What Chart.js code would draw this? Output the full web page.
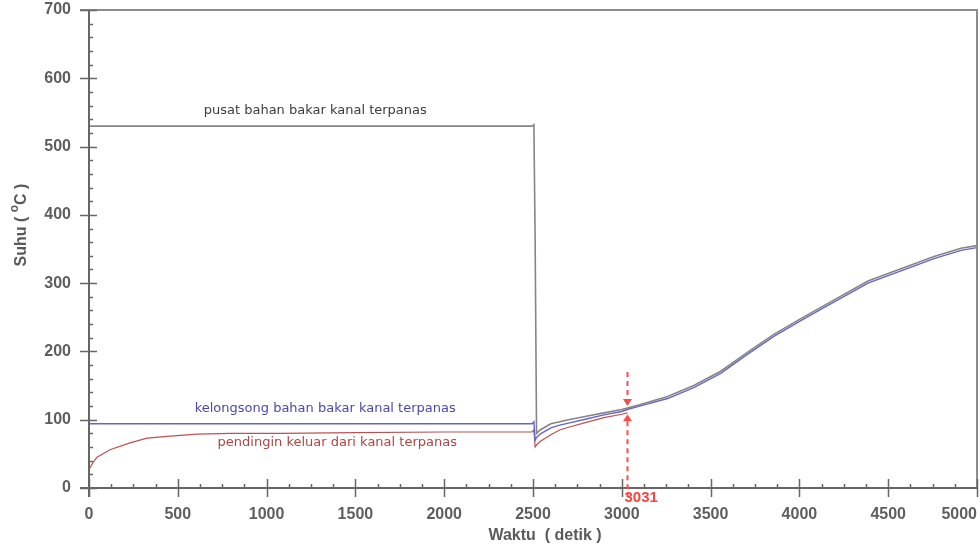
<!DOCTYPE html>
<html>
<head>
<meta charset="utf-8">
<script src="https://cdn.jsdelivr.net/npm/chart.js@4"></script>
<style>
  html, body { margin: 0; padding: 0; background: #fff; }
  #c { display: block; }
</style>
</head>
<body>
<canvas id="c" width="980" height="544"></canvas>
<script>
// ---- data (time in seconds, temperature in °C) ----
const waktu = [0, 20, 45, 118, 231, 327, 457, 609, 795, 1077, 1500, 2000, 2495, 2505, 2512, 2520, 2540, 2600, 2650, 2700, 2800, 2900, 3000, 3031, 3100, 3258, 3405, 3557, 3709, 3856, 4008, 4138, 4386, 4572, 4758, 4910, 5000];
const pusat = [530, 530, 530, 530, 530, 530, 530, 530, 530, 530, 530, 530, 530, 532, 365, 80, 85, 94, 97, 100, 105, 110, 115, 117, 122, 134, 150, 171, 199, 225, 248, 267, 303, 321, 339, 351, 355];
const kelongsong = [94, 94, 94, 94, 94, 94, 94, 94, 94, 94, 94, 94, 94, 97, 70, 74, 79, 88, 92, 95, 101, 107, 112, 115, 120, 131, 147, 168, 196, 222, 245, 264, 300, 318, 336, 348, 352];
const pendingin = [27, 36, 45, 56, 66, 73, 76, 79, 80, 80, 81, 82, 82, 85, 60, 63, 68, 78, 85, 89, 96, 103, 108, 110, null, null, null, null, null, null, null, null, null, null, null, null, null];
const xTicks = [0, 500, 1000, 1500, 2000, 2500, 3000, 3500, 4000, 4500, 5000];
const yTicks = [0, 100, 200, 300, 400, 500, 600, 700];
const seriesNames = ['pusat bahan bakar kanal terpanas', 'kelongsong bahan bakar kanal terpanas', 'pendingin keluar dari kanal terpanas'];
const markTime = 3031;

const toXY = (arr) => waktu.map((t, i) => ({ x: t, y: arr[i] }));

const AXIS = '#666666';
const FONT = '"Liberation Sans", Arial, sans-serif';
const LFONT = '"DejaVu Sans", Verdana, sans-serif';

const decor = {
  id: 'decor',
  afterDraw(chart) {
    const ctx = chart.ctx;
    const xs = chart.scales.x, ys = chart.scales.y;
    const a = chart.chartArea;
    ctx.save();
    // top / right border
    ctx.strokeStyle = '#8c8c8c';
    ctx.lineWidth = 2;
    ctx.beginPath();
    ctx.moveTo(a.left - 9, a.top);
    ctx.lineTo(a.right, a.top);
    ctx.lineTo(a.right, a.bottom);
    ctx.stroke();
    // axes
    ctx.strokeStyle = AXIS;
    ctx.lineWidth = 2;
    ctx.beginPath();
    ctx.moveTo(a.left, a.top);
    ctx.lineTo(a.left, a.bottom + 9);
    ctx.moveTo(a.left - 9, a.bottom);
    ctx.lineTo(a.right, a.bottom);
    ctx.stroke();
    // y ticks
    ctx.lineWidth = 1.5;
    ctx.beginPath();
    for (let v = 0; v <= 700; v += 20) {
      const py = Math.round(ys.getPixelForValue(v)) + 0.5;
      if (v % 100 === 0) { ctx.moveTo(a.left - 9, py); ctx.lineTo(a.left + 8, py); }
      else { ctx.moveTo(a.left, py); ctx.lineTo(a.left + 4, py); }
    }
    // x ticks
    for (let v = 0; v <= 5000; v += 125) {
      const px = Math.round(xs.getPixelForValue(v)) + 0.5;
      if (v % 500 === 0) { ctx.moveTo(px, a.bottom - 9); ctx.lineTo(px, a.bottom + 9); }
      else { ctx.moveTo(px, a.bottom - 4); ctx.lineTo(px, a.bottom); }
    }
    ctx.stroke();

    // series labels
    ctx.font = '13px ' + LFONT;
    ctx.textAlign = 'center';
    ctx.textBaseline = 'middle';
    ctx.fillStyle = '#3c3c3c';
    ctx.fillText(seriesNames[0], xs.getPixelForValue(1274), ys.getPixelForValue(552));
    ctx.fillStyle = '#4848b4';
    ctx.fillText(seriesNames[1], xs.getPixelForValue(1330), ys.getPixelForValue(116));
    ctx.fillStyle = '#b04444';
    ctx.fillText(seriesNames[2], xs.getPixelForValue(1398), ys.getPixelForValue(66));

    // marker at 3031
    const mx = Math.round(xs.getPixelForValue(markTime)) + 0.5;
    const yTop = ys.getPixelForValue(170), yTip1 = ys.getPixelForValue(120);
    const yTip2 = ys.getPixelForValue(108), yBot = ys.getPixelForValue(-13);
    ctx.strokeStyle = '#ff4a4a';
    ctx.fillStyle = '#ff4a4a';
    ctx.lineWidth = 2;
    ctx.setLineDash([5, 4]);
    ctx.beginPath();
    ctx.moveTo(mx, yTop); ctx.lineTo(mx, yTip1 - 7);
    ctx.moveTo(mx, yTip2 + 7); ctx.lineTo(mx, yBot);
    ctx.stroke();
    ctx.setLineDash([]);
    ctx.beginPath();
    ctx.moveTo(mx - 4.5, yTip1 - 7); ctx.lineTo(mx + 4.5, yTip1 - 7); ctx.lineTo(mx, yTip1); ctx.closePath();
    ctx.moveTo(mx - 4.5, yTip2 + 7); ctx.lineTo(mx + 4.5, yTip2 + 7); ctx.lineTo(mx, yTip2); ctx.closePath();
    ctx.fill();
    ctx.font = 'bold 15px ' + FONT;
    ctx.textAlign = 'left';
    ctx.fillStyle = '#ff4040';
    ctx.fillText(String(markTime), mx - 3, ys.getPixelForValue(-14.5));

    // axis titles
    ctx.fillStyle = '#5a5a5a';
    ctx.font = 'bold 16px ' + FONT;
    ctx.textAlign = 'center';
    ctx.fillText('Waktu  ( detik )', 545, 536);

    ctx.translate(22, 225);
    ctx.rotate(-Math.PI / 2);
    const big = 'bold 16px ' + FONT, small = 'bold 12px ' + FONT;
    const parts = [['Suhu ( ', big, 0], ['o', small, -7], ['C )', big, 0]];
    let total = 0;
    parts.forEach(p => { ctx.font = p[1]; total += ctx.measureText(p[0]).width; });
    let cx = -total / 2;
    ctx.textAlign = 'left';
    parts.forEach(p => { ctx.font = p[1]; ctx.fillText(p[0], cx, p[2]); cx += ctx.measureText(p[0]).width; });
    ctx.restore();
  }
};

new Chart(document.getElementById('c'), {
  type: 'line',
  data: {
    datasets: [
      { label: seriesNames[0], data: toXY(pusat), borderColor: '#858585', borderWidth: 1.6, pointRadius: 0, tension: 0 },
      { label: seriesNames[1], data: toXY(kelongsong), borderColor: '#6464cc', borderWidth: 1.4, pointRadius: 0, tension: 0 },
      { label: seriesNames[2], data: toXY(pendingin), borderColor: '#bb5252', borderWidth: 1.2, pointRadius: 0, tension: 0, spanGaps: false }
    ]
  },
  options: {
    responsive: false,
    animation: false,
    devicePixelRatio: 1,
    layout: { padding: { left: 0, top: 10, right: 3, bottom: 0 } },
    plugins: { legend: { display: false }, tooltip: { enabled: false } },
    scales: {
      x: {
        type: 'linear', min: 0, max: 5000,
        afterFit(s) { s.height = 56; s.paddingLeft = 0; s.paddingRight = 0; },
        afterBuildTicks(s) { s.ticks = xTicks.map(v => ({ value: v })); },
        grid: { display: false }, border: { display: false },
        ticks: {
          color: '#5e5e5e', font: { family: FONT, size: 16, weight: 'bold' }, padding: 9, maxRotation: 0, autoSkip: false,
          callback: (v) => v === 5000 ? String(v) + '\u00a0'.repeat(8) : String(v)
        }
      },
      y: {
        type: 'linear', min: 0, max: 700,
        afterFit(s) { s.width = 89; s.paddingTop = 0; s.paddingBottom = 0; },
        afterBuildTicks(s) { s.ticks = yTicks.map(v => ({ value: v })); },
        grid: { display: false }, border: { display: false },
        ticks: { color: '#5e5e5e', font: { family: FONT, size: 16, weight: 'bold' }, padding: 10, callback: (v) => String(v) }
      }
    }
  },
  plugins: [decor]
});
</script>
</body>
</html>
